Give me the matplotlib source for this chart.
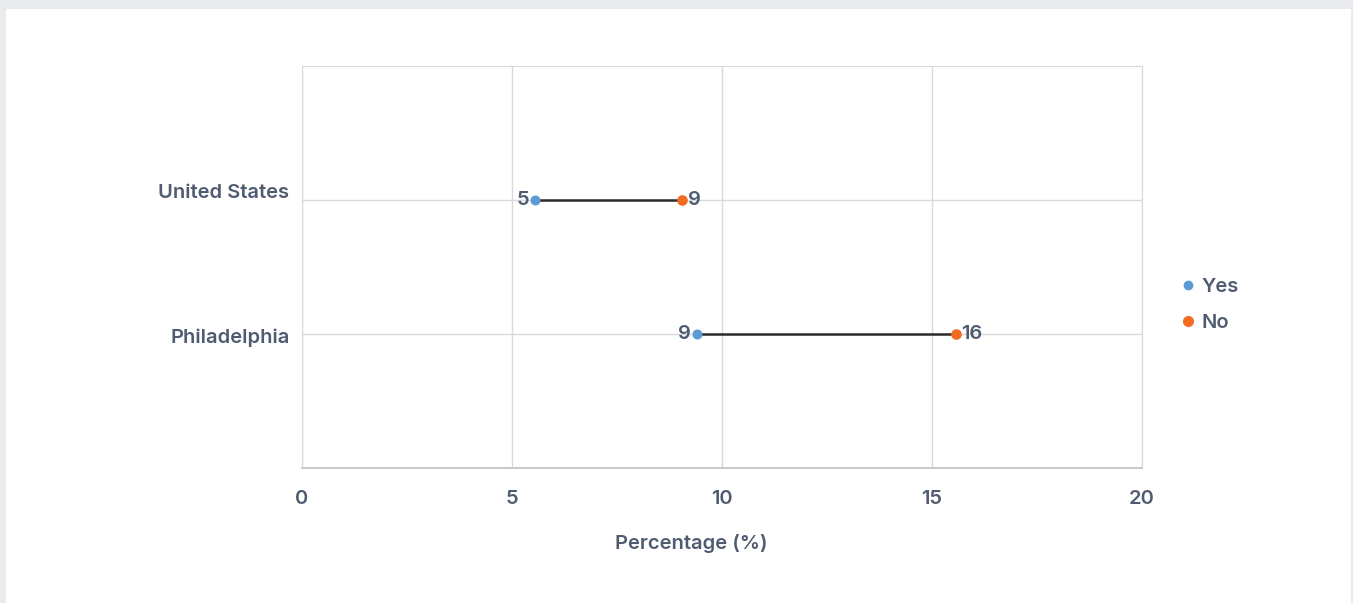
import numpy as np
import matplotlib.pyplot as plt
from matplotlib.lines import Line2D
from matplotlib.patches import Rectangle

# data
regions = ['United States', 'Philadelphia']
yes_vals = [5.55, 9.4]
no_vals = [9.05, 15.57]
yes_labels = ['5', '9']
no_labels = ['9', '16']

txt = '#4f5b70'
blue = '#5b9bd5'
orange = '#f26b21'
fs = 14.5
fw = 600

plt.rcParams['font.family'] = ['Inter', 'DejaVu Sans']

fig = plt.figure(figsize=(13.53, 6.03), dpi=100)
fig.patch.set_facecolor('#e9ebee')
# white card behind the axes
fig.patches.append(Rectangle((6 / 1353, 0), 1345 / 1353, 594 / 603,
                             transform=fig.transFigure, facecolor='white',
                             edgecolor='none', zorder=-5))

ax = fig.add_axes([302 / 1353, 135 / 603, 840 / 1353, 402 / 603])
ax.set_facecolor('white')

ypos = np.arange(1, len(regions) + 1)

for y, a, b in zip(ypos, yes_vals, no_vals):
    ax.plot([a, b], [y, y], color='#2b2b2b', linewidth=1.8, zorder=3)
ax.scatter(yes_vals, ypos, s=38, color=blue, zorder=4, label='Yes')
ax.scatter(no_vals, ypos, s=44, color=orange, zorder=4, label='No')

for y, a, b, la, lb in zip(ypos, yes_vals, no_vals, yes_labels, no_labels):
    ax.annotate(la, (a, y), xytext=(-4, 0), textcoords='offset points',
                ha='right', va='center', fontsize=fs, color=txt, fontweight=fw)
    ax.annotate(lb, (b, y), xytext=(4, 0), textcoords='offset points',
                ha='left', va='center', fontsize=fs, color=txt, fontweight=fw)

ax.set_xlim(0, 20)
ax.set_ylim(3, 0)
ax.set_xticks([0, 5, 10, 15, 20])
ax.set_yticks(ypos)
ax.set_yticklabels([])
ax.grid(True, color='#d9d9d9', linewidth=1)
ax.set_axisbelow(True)
for s in ['top', 'right', 'left']:
    ax.spines[s].set_color('#d9d9d9')
ax.spines['bottom'].set_color('#c4c4c4')
ax.spines['bottom'].set_linewidth(1.3)
ax.tick_params(axis='both', length=0, labelsize=fs, labelcolor=txt)
ax.tick_params(axis='x', pad=16)
for t in ax.get_xticklabels():
    t.set_fontweight(fw)

# category labels sit a bit off the gridlines in the original
label_shift = [5, -3]
for y, name, dy in zip(ypos, regions, label_shift):
    ax.annotate(name, (0, y), xycoords=('axes fraction', 'data'),
                xytext=(-9, dy), textcoords='offset points',
                ha='right', va='center', fontsize=fs, color=txt, fontweight=fw)

ax.set_xlabel('Percentage (%)', fontsize=fs, color=txt, fontweight=fw, va='center')
ax.xaxis.set_label_coords(0.463, -0.187)

handles = [Line2D([], [], marker='o', linestyle='', color=blue, markersize=6),
           Line2D([], [], marker='o', linestyle='', color=orange, markersize=7)]
leg = ax.legend(handles, ['Yes', 'No'], loc='center left', bbox_to_anchor=(1.039, 0.405),
                frameon=False, fontsize=fs, handlelength=0.5, handletextpad=0.45,
                labelspacing=0.9, borderaxespad=0)
for t in leg.get_texts():
    t.set_color(txt)
    t.set_fontweight(fw)

plt.savefig('out.png', dpi=100, facecolor=fig.get_facecolor())
